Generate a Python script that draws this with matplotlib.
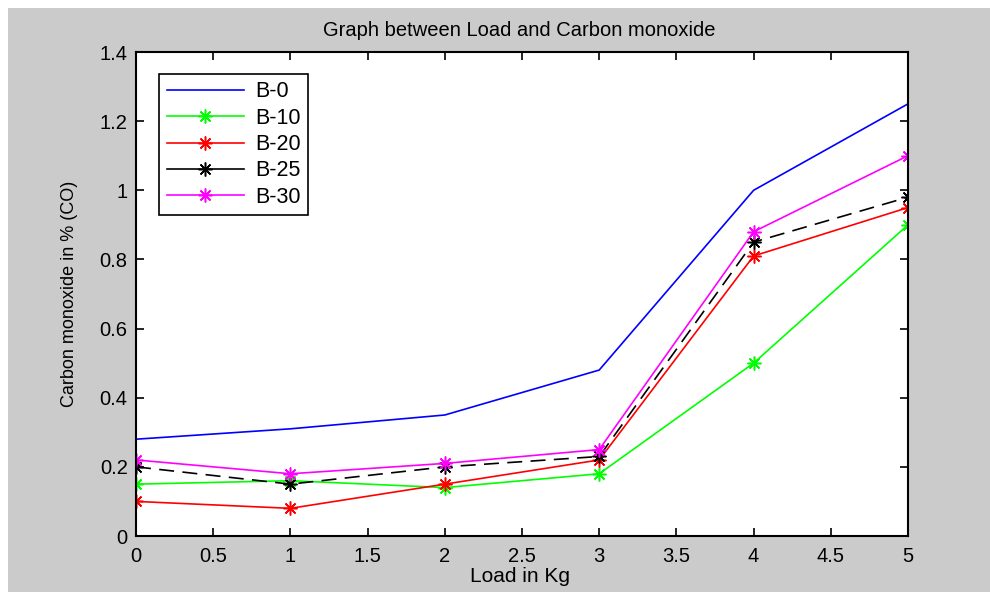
import numpy as np
import matplotlib
matplotlib.use("Agg")
import matplotlib.pyplot as plt
from matplotlib.lines import Line2D
from matplotlib.patches import Rectangle

plt.rcParams['font.family'] = ['Liberation Sans', 'DejaVu Sans']

load = [0, 1, 2, 3, 4, 5]
b0 = [0.28, 0.31, 0.35, 0.48, 1.00, 1.25]
b10 = [0.15, 0.16, 0.14, 0.18, 0.50, 0.90]
b20 = [0.10, 0.08, 0.15, 0.22, 0.81, 0.95]
b25 = [0.20, 0.15, 0.20, 0.23, 0.85, 0.98]
b30 = [0.22, 0.18, 0.21, 0.25, 0.88, 1.10]
labels = ["B-0", "B-10", "B-20", "B-25", "B-30"]
xticks = [0, 0.5, 1, 1.5, 2, 2.5, 3, 3.5, 4, 4.5, 5]
yticks = [0, 0.2, 0.4, 0.6, 0.8, 1, 1.2, 1.4]

star = (8, 2, 0)  # matlab-like asterisk
ms = 10

fig = plt.figure(figsize=(9.9, 5.92), dpi=100, facecolor='white')
# grey MATLAB figure window, white strip top/left
fig.patches.append(Rectangle((8/990, 0), 1, 584/592, transform=fig.transFigure,
                             facecolor='#cbcbcb', edgecolor='none', zorder=-10))

ax = fig.add_axes([136/990, 56/592, 772/990, 484/592])
ax.set_facecolor('white')

lw = 1.2
ax.plot(load, b0, color='#0000ff', lw=lw)
ax.plot(load, b10, color='#00ff00', lw=lw, marker=star, ms=ms, mew=1.1)
ax.plot(load, b20, color='#ff0000', lw=lw, marker=star, ms=ms, mew=1.1)
ax.plot(load, b25, color='black', lw=lw, ls=(0, (9, 5)), marker=star, ms=ms, mew=1.1)
ax.plot(load, b30, color='#ff00ff', lw=lw, marker=star, ms=ms, mew=1.1)

ax.set_xlim(0, 5)
ax.set_ylim(0, 1.4)
ax.set_xticks(xticks)
ax.set_xticklabels([f"{t:g}" for t in xticks])
ax.set_yticks(yticks)
ax.set_yticklabels([f"{t:g}" for t in yticks])
ax.tick_params(direction='in', length=6, width=1.2, top=True, right=True,
               labelsize=14.5, pad=6, colors='black')
ax.tick_params(axis='x', pad=8)
for s in ax.spines.values():
    s.set_linewidth(1.5)
    s.set_color('black')

# legend drawn with solid lines as in the original
handles = [
    Line2D([], [], color='#0000ff', lw=lw),
    Line2D([], [], color='#00ff00', lw=lw, marker=star, ms=ms, mew=1.1),
    Line2D([], [], color='#ff0000', lw=lw, marker=star, ms=ms, mew=1.1),
    Line2D([], [], color='black', lw=lw, marker=star, ms=ms, mew=1.1),
    Line2D([], [], color='#ff00ff', lw=lw, marker=star, ms=ms, mew=1.1),
]
leg = ax.legend(handles, labels, loc='upper left', bbox_to_anchor=(0.03, 0.955),
                borderaxespad=0, fontsize=15.5, handlelength=3.6, labelspacing=0.25,
                fancybox=False, framealpha=1, edgecolor='black', borderpad=0.35,
                handletextpad=0.5)
leg.get_frame().set_linewidth(1.2)

fig.text(519/990, 1 - 31/592, "Graph between Load and Carbon monoxide",
         ha='center', va='center', fontsize=14.5)
fig.text(520/990, 1 - 577/592, "Load in Kg", ha='center', va='center', fontsize=15)
fig.text(70/990, 1 - 294/592, "Carbon monoxide in % (CO)", ha='center', va='center',
         rotation=90, fontsize=13)

fig.savefig("out.png", dpi=100)
